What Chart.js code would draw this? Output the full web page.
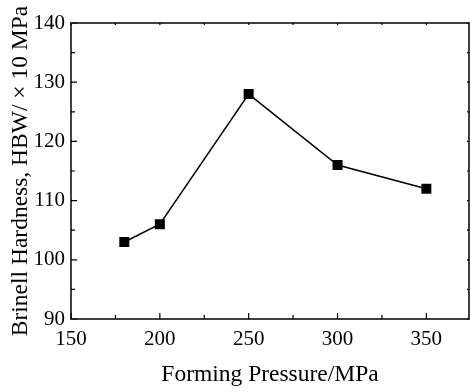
<!DOCTYPE html>
<html><head><meta charset="utf-8">
<script src="https://cdn.jsdelivr.net/npm/chart.js@4/dist/chart.umd.min.js"></script>
<style>html,body{margin:0;padding:0;background:#fff}#wrap{width:470px;height:392px}</style>
</head><body><div id="wrap"><canvas id="c" width="470" height="392"></canvas></div>
<script>
const pressure = [180, 200, 250, 300, 350];
const hardness = [103, 106, 128, 116, 112];
const xTicks = [150, 200, 250, 300, 350];
const yTicks = [90, 100, 110, 120, 130, 140];
const xTitle = 'Forming Pressure/MPa';
const yTitle = 'Brinell Hardness, HBW/ × 10 MPa';

const FONT = '"Liberation Serif", "Times New Roman", serif';

const tickPlugin = {
  id: 'insideTicks',
  afterDraw(chart) {
    const ctx = chart.ctx, a = chart.chartArea;
    const xs = chart.scales.x, ys = chart.scales.y;
    ctx.save();
    ctx.strokeStyle = '#000';
    ctx.lineWidth = 1.5;
    ctx.strokeRect(a.left, a.top, a.right - a.left, a.bottom - a.top);
    ctx.lineWidth = 1.2;
    ctx.beginPath();
    for (let v = 150; v <= 375; v += 25) {
      const px = xs.getPixelForValue(v);
      if (px > a.right - 1) continue;
      const major = v % 50 === 0;
      const L = major ? 6 : 4;
      ctx.moveTo(px, a.bottom); ctx.lineTo(px, a.bottom - L);
      ctx.moveTo(px, a.top); ctx.lineTo(px, a.top + 2);
    }
    for (let v = 90; v <= 140; v += 5) {
      const py = ys.getPixelForValue(v);
      const major = v % 10 === 0;
      const L = major ? 6 : 4;
      ctx.moveTo(a.left, py); ctx.lineTo(a.left + L, py);
      ctx.moveTo(a.right, py); ctx.lineTo(a.right - 2, py);
    }
    ctx.stroke();
    ctx.restore();
  }
};

new Chart(document.getElementById('c'), {
  type: 'scatter',
  data: {
    datasets: [{
      data: pressure.map((p, i) => ({x: p, y: hardness[i]})),
      showLine: true,
      borderColor: '#000',
      borderWidth: 1.5,
      backgroundColor: '#000',
      pointStyle: 'rect',
      pointRadius: 6,
      pointHoverRadius: 6
    }]
  },
  options: {
    responsive: false,
    animation: false,
    devicePixelRatio: 1,
    layout: {autoPadding: false, padding: {top: 23, right: 1, left: 0, bottom: 0}},
    plugins: {legend: {display: false}, tooltip: {enabled: false}},
    scales: {
      x: {
        type: 'linear', min: 150, max: 374,
        afterBuildTicks: s => { s.ticks = xTicks.map(v => ({value: v})); },
        afterFit: s => { s.height = 73; s.paddingLeft = 0; s.paddingRight = 0; },
        grid: {display: false, drawTicks: false},
        border: {display: false},
        ticks: {color: '#000', padding: 8, font: {family: FONT, size: 21}, maxRotation: 0},
        title: {display: true, text: xTitle, color: '#000', font: {family: FONT, size: 23.5}, padding: {top: 4, bottom: 3}}
      },
      y: {
        type: 'linear', min: 90, max: 140,
        afterBuildTicks: s => { s.ticks = yTicks.map(v => ({value: v})); },
        afterFit: s => { s.width = 71; s.paddingTop = 0; s.paddingBottom = 0; },
        grid: {display: false, drawTicks: false},
        border: {display: false},
        ticks: {color: '#000', padding: 6, font: {family: FONT, size: 21}},
        title: {display: true, text: yTitle, color: '#000', font: {family: FONT, size: 23.5}, padding: {top: 7, bottom: 0}}
      }
    }
  },
  plugins: [tickPlugin]
});
</script></body></html>
